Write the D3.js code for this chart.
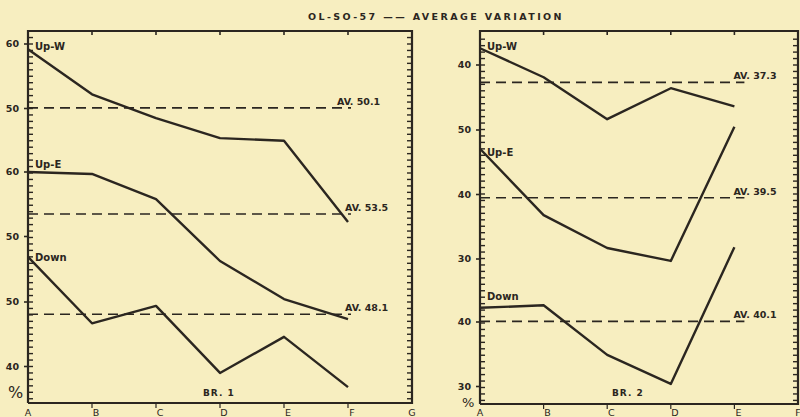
<!DOCTYPE html>
<html>
<head>
<meta charset="utf-8">
<script src="https://cdn.jsdelivr.net/npm/d3@7/dist/d3.min.js"></script>
<style>
  body { margin: 0; background: #f7eec0; }
  svg { display: block; }
  text { font-family: "DejaVu Sans", sans-serif; fill: #2b2620; font-weight: bold; }
</style>
</head>
<body>
<div id="chart"></div>
<script>
// categories along the bottom
const lettersBr1 = ["A", "B", "C", "D", "E", "F", "G"];
const lettersBr2 = ["A", "B", "C", "D", "E", "F"];
const seriesNames = ["Up-W", "Up-E", "Down"];

// BR. 1 values (each series on its own shifted scale)
const br1UpW = [59.2, 52.2, 48.5, 45.4, 45.0, 32.4];
const br1UpE = [60.0, 59.7, 55.8, 46.2, 40.3, 37.2];
const br1Down = [57.0, 46.7, 49.4, 39.0, 44.6, 36.8];
const br1Avg = [50.1, 53.5, 48.1];

// BR. 2 values
const br2UpW = [42.6, 38.1, 31.6, 36.4, 33.6];
const br2UpE = [47.1, 36.8, 31.7, 29.7, 50.5];
const br2Down = [42.2, 42.6, 34.9, 30.4, 51.6];
const br2Avg = [37.3, 39.5, 40.1];

// tick labels of each series scale, and the value at the top label
const br1TickLabels = [[60, 50], [60, 50], [50, 40]];
const br2TickLabels = [[40], [50, 40, 30], [40, 30]];
const br1RefValues = [60, 60, 50];
const br2RefValues = [40, 50, 40];

const width = 800, height = 417;
const ink = "#2b2620";
const unitPx = 6.45;

const svg = d3.select("#chart").append("svg")
  .attr("width", width)
  .attr("height", height);

// title
svg.append("text")
  .attr("x", 308).attr("y", 20)
  .style("font-size", "9.5px")
  .style("letter-spacing", "2.4px")
  .text("OL-SO-57 —— AVERAGE VARIATION");

const panels = [
  {
    letters: lettersBr1, series: [br1UpW, br1UpE, br1Down], avg: br1Avg,
    tickLabels: br1TickLabels, refValues: br1RefValues, refY: [44, 172, 302],
    left: 28, right: 412, top: 31, bottom: 403, name: "BR. 1",
    labelDy: [1, -4, 4], avgDx: [-11, -3, -3], avgEnd: 3,
    pct: { x: 8, y: 398, size: 16 }, nameX: 203
  },
  {
    letters: lettersBr2, series: [br2UpW, br2UpE, br2Down], avg: br2Avg,
    tickLabels: br2TickLabels, refValues: br2RefValues, refY: [65, 130, 322],
    left: 480, right: 798, top: 31, bottom: 404, name: "BR. 2",
    labelDy: [2, 7, -8], avgDx: [-1, -1, -1], avgEnd: 10,
    pct: { x: 462, y: 407, size: 13 }, nameX: 612
  }
];

panels.forEach(p => {
  const g = svg.append("g");

  const x = d3.scalePoint()
    .domain(p.letters)
    .range([p.left, p.right]);

  const yScales = p.refValues.map((v, i) => d3.scaleLinear()
    .domain([v, v - 10])
    .range([p.refY[i], p.refY[i] + 10 * unitPx]));

  // frame
  g.append("path")
    .attr("d", `M${p.left},${p.bottom}V${p.top}H${p.right}V${p.bottom}H${p.left}`)
    .attr("fill", "none")
    .attr("stroke", ink)
    .attr("stroke-width", 2.2);

  // minor ticks on both vertical edges (one per unit)
  const s0 = yScales[0];
  const minor = d3.range(Math.ceil(s0.invert(p.bottom - 3)), Math.floor(s0.invert(p.top + 3)) + 1);
  g.selectAll(".minor-l").data(minor).enter().append("line")
    .attr("x1", p.left).attr("x2", p.left + 5)
    .attr("y1", d => s0(d)).attr("y2", d => s0(d))
    .attr("stroke", ink).attr("stroke-width", 1.4);
  g.selectAll(".minor-r").data(minor).enter().append("line")
    .attr("x1", p.right).attr("x2", p.right - 5)
    .attr("y1", d => s0(d)).attr("y2", d => s0(d))
    .attr("stroke", ink).attr("stroke-width", 1.4);

  // labelled ticks of each series scale
  p.tickLabels.forEach((ticks, i) => {
    const y = yScales[i];
    ticks.forEach(t => {
      g.append("line")
        .attr("x1", p.left - 4).attr("x2", p.left)
        .attr("y1", y(t)).attr("y2", y(t))
        .attr("stroke", ink).attr("stroke-width", 1.6);
      g.append("text")
        .attr("x", p.left - 9).attr("y", y(t))
        .attr("dy", "0.35em")
        .attr("text-anchor", "end")
        .style("font-size", "9.5px")
        .text(t);
    });
  });

  // top and bottom category ticks
  const inner = p.letters.slice(1, -1);
  g.selectAll(".top-tick").data(inner).enter().append("line")
    .attr("x1", d => x(d)).attr("x2", d => x(d))
    .attr("y1", p.top).attr("y2", p.top + 4)
    .attr("stroke", ink).attr("stroke-width", 1.6);
  g.selectAll(".bot-tick").data(inner).enter().append("line")
    .attr("x1", d => x(d)).attr("x2", d => x(d))
    .attr("y1", p.bottom).attr("y2", p.bottom + 5)
    .attr("stroke", ink).attr("stroke-width", 1.2);
  g.selectAll(".cat").data(p.letters).enter().append("text")
    .attr("x", (d, i) => x(d) + (i === 0 || i === p.letters.length - 1 ? 0 : 4))
    .attr("y", 416)
    .attr("text-anchor", "middle")
    .style("font-size", "9.5px")
    .style("font-weight", "normal")
    .text(d => d);

  // average lines
  p.avg.forEach((a, i) => {
    const y = yScales[i](a);
    const xEnd = x(p.letters[p.series[0].length - 1]);
    g.append("line")
      .attr("x1", p.left).attr("x2", xEnd + p.avgEnd)
      .attr("y1", y).attr("y2", y)
      .attr("stroke", ink)
      .attr("stroke-width", 1.6)
      .attr("stroke-dasharray", "10,6");
    g.append("text")
      .attr("x", xEnd + p.avgDx[i]).attr("y", y - 3)
      .style("font-size", "9.5px")
      .text("AV. " + a.toFixed(1));
  });

  // data lines
  p.series.forEach((vals, i) => {
    const y = yScales[i];
    const line = d3.line()
      .x((d, j) => x(p.letters[j]))
      .y(d => y(d));
    g.append("path")
      .datum(vals)
      .attr("d", line)
      .attr("fill", "none")
      .attr("stroke", ink)
      .attr("stroke-width", 2.4)
      .attr("stroke-linejoin", "round");
    g.append("text")
      .attr("x", p.left + 7)
      .attr("y", y(vals[0]) + p.labelDy[i])
      .style("font-size", "10px")
      .text(seriesNames[i]);
  });

  // panel name and percent sign
  g.append("text")
    .attr("x", p.nameX).attr("y", 396)
    .style("font-size", "9px")
    .style("letter-spacing", "1px")
    .text(p.name);
  g.append("text")
    .attr("x", p.pct.x).attr("y", p.pct.y)
    .style("font-size", p.pct.size + "px")
    .style("font-weight", "normal")
    .text("%");
});
</script>
</body>
</html>
